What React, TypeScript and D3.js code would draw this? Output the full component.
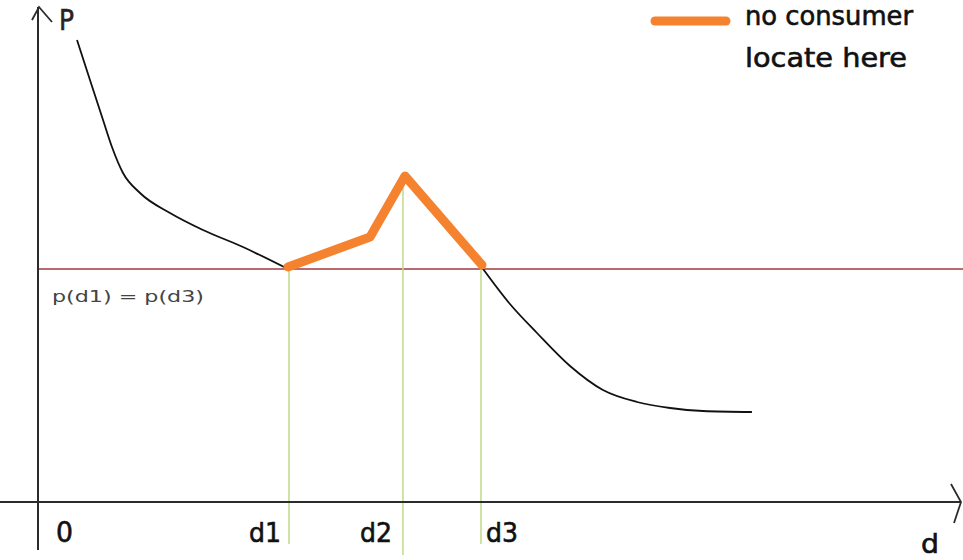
import React from "react";
import * as d3 from "d3";

// Data (d units on x, price units on y)
const leftCurveD = [4.24, 5.65, 7.07, 8.04, 9.24, 11.09, 14.35, 17.93, 22.28, 27.07];
const leftCurveP = [92.4, 84.4, 76.4, 71.0, 65.8, 61.8, 57.8, 54.4, 51.0, 46.7];
const rightCurveD = [48.26, 51.3, 54.24, 57.83, 61.41, 65.11, 68.7, 72.28, 77.6];
const rightCurveP = [46.9, 39.6, 33.8, 27.2, 22.4, 20.0, 18.8, 18.2, 18.0];
const gapD = [27.17, 36.09, 39.89, 48.26];
const gapP = [47.0, 53.0, 65.2, 47.4];
const dMarks = [27.28, 39.67, 48.15];
const dMarkTop = [46.6, 64.6, 46.9];
const dLabels = ["d1", "d2", "d3"];
const priceLevel = 46.6;
const priceLabel = "p(d1) = p(d3)";
const legendLabel = ["no consumer", "locate here"];

const W = 963;
const H = 560;

export default function App() {
  const x = d3.scaleLinear().domain([0, 100]).range([38, 958]);
  const y = d3.scaleLinear().domain([0, 100]).range([502, 2]);

  const curve = d3
    .line<[number, number]>()
    .x((d) => x(d[0]))
    .y((d) => y(d[1]))
    .curve(d3.curveMonotoneX);
  const straight = d3
    .line<[number, number]>()
    .x((d) => x(d[0]))
    .y((d) => y(d[1]));

  const left = leftCurveD.map((d, i) => [d, leftCurveP[i]] as [number, number]);
  const right = rightCurveD.map((d, i) => [d, rightCurveP[i]] as [number, number]);
  const gap = gapD.map((d, i) => [d, gapP[i]] as [number, number]);

  const axisColor = "#2b2b2b";
  const comic = "'Comic Sans MS', 'DejaVu Sans', sans-serif";
  const labelX = [249, 360, 486];

  return (
    <svg
      width={W}
      height={H}
      style={{ position: "absolute", left: 0, top: 0, background: "#fff" }}
    >
      {/* price level line */}
      <line x1={x(0)} x2={W} y1={y(priceLevel)} y2={y(priceLevel)} stroke="#a33a3c" strokeWidth={1.5} />

      {/* vertical markers */}
      {dMarks.map((d, i) => (
        <line
          key={i}
          x1={x(d)}
          x2={x(d)}
          y1={y(dMarkTop[i])}
          y2={i === 1 ? 555 : 544}
          stroke="#c2d98a"
          strokeWidth={1.5}
        />
      ))}

      {/* axes */}
      <line x1={x(0)} x2={x(0)} y1={550} y2={7} stroke={axisColor} strokeWidth={2} />
      <polyline points="32,20 39,7 52,22" fill="none" stroke={axisColor} strokeWidth={1.8} />
      <line x1={0} x2={961} y1={y(0)} y2={y(0)} stroke={axisColor} strokeWidth={2} />
      <polyline points="951,484 961,502 954,523" fill="none" stroke={axisColor} strokeWidth={1.8} />

      {/* demand curve */}
      <path d={curve(left) || ""} fill="none" stroke="#111" strokeWidth={1.8} />
      <path d={curve(right) || ""} fill="none" stroke="#111" strokeWidth={1.8} />

      {/* gap segment */}
      <path
        d={straight(gap) || ""}
        fill="none"
        stroke="#f5822f"
        strokeWidth={9}
        strokeLinecap="round"
        strokeLinejoin="round"
      />

      {/* labels */}
      <text x={59} y={30} fontFamily={comic} fontSize={29} stroke="#2a2222" strokeWidth={0.6} fill="#2a2222" textLength={15} lengthAdjust="spacingAndGlyphs">P</text>
      <text x={52} y={302} fontFamily="'DejaVu Sans', sans-serif" fontSize={15} fill="#444" textLength={152} lengthAdjust="spacingAndGlyphs">{priceLabel}</text>
      <text x={56} y={542} fontFamily={comic} fontSize={28} stroke="#111" strokeWidth={0.6} fill="#111" textLength={17} lengthAdjust="spacingAndGlyphs">0</text>
      {dMarks.map((d, i) => (
        <text
          key={i}
          x={labelX[i]}
          y={542}
          fontFamily={comic}
          fontSize={27}
          fill="#111"
          stroke="#111"
          strokeWidth={0.6}
          textLength={32}
          lengthAdjust="spacingAndGlyphs"
        >
          {dLabels[i]}
        </text>
      ))}
      <text x={921} y={553} fontFamily={comic} fontSize={27} fill="#111" stroke="#111" strokeWidth={0.6} textLength={18} lengthAdjust="spacingAndGlyphs">d</text>

      {/* legend */}
      <line x1={655} x2={726} y1={21} y2={21} stroke="#f5822f" strokeWidth={9} strokeLinecap="round" />
      <text x={745} y={25} fontFamily={comic} fontSize={26} fill="#111" stroke="#111" strokeWidth={0.6} textLength={168} lengthAdjust="spacingAndGlyphs">{legendLabel[0]}</text>
      <text x={745} y={67} fontFamily={comic} fontSize={26} fill="#111" stroke="#111" strokeWidth={0.6} textLength={162} lengthAdjust="spacingAndGlyphs">{legendLabel[1]}</text>
    </svg>
  );
}
